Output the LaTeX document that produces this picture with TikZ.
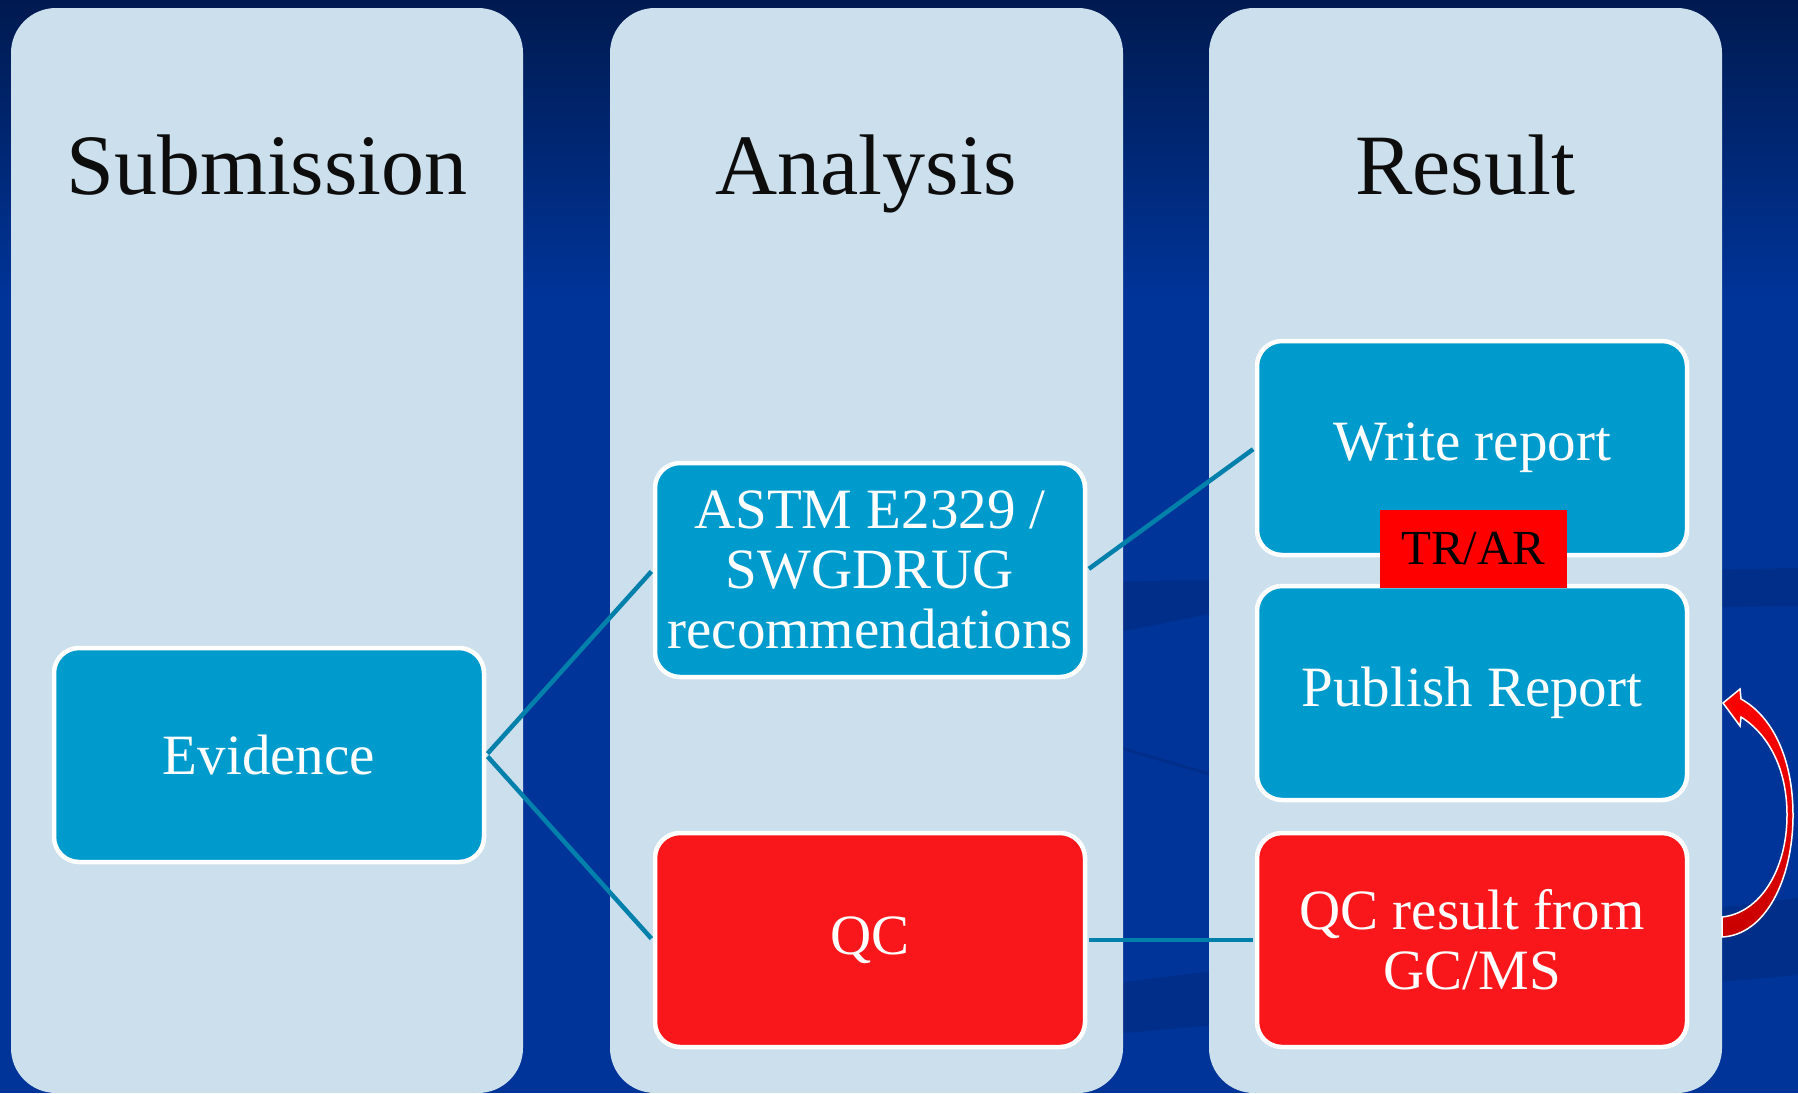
\documentclass[tikz,border=0pt]{standalone}
\usepackage{fontspec}
\setmainfont{Liberation Serif}

\definecolor{bgtop}{RGB}{0,26,80}
\definecolor{bgmain}{RGB}{0,52,153}
\definecolor{lanefill}{RGB}{203,223,236}
\definecolor{boxblue}{RGB}{0,155,205}
\definecolor{boxred}{RGB}{249,23,27}
\definecolor{linkteal}{RGB}{0,128,170}
\definecolor{arrowdark}{RGB}{200,0,0}

\begin{document}
\begin{tikzpicture}[x=1pt,y=-1pt,
  lane/.style={fill=lanefill, rounded corners=45pt},
  lanetitle/.style={anchor=base, text={rgb,255:red,13;green,13;blue,13}, font=\fontsize{86}{90}\selectfont},
  stage/.style={rectangle, rounded corners=25pt, draw=white, line width=4.5pt,
    minimum width=430pt, minimum height=214pt, inner sep=0pt, align=center,
    text=white, font=\fontsize{57}{60}\selectfont},
  bluebox/.style={stage, fill=boxblue},
  redbox/.style={stage, fill=boxred},
  link/.style={draw=linkteal, line width=4.5pt, shorten <=2pt, shorten >=2pt},
  tag/.style={rectangle, fill=red, minimum width=187pt, minimum height=78pt,
    inner sep=0pt, text=black, font=\fontsize{49}{50}\selectfont},
  streak/.style={fill=black, opacity=0.10},
]
\useasboundingbox (0,0) rectangle (1798,1093);

% backdrop: navy gradient at the top, flat blue below
\fill[bgmain] (0,0) rectangle (1798,1093);
\shade[top color=bgtop, bottom color=bgmain] (0,0) rectangle (1798,300);
\fill[streak] (1100,582) -- (1798,568) -- (1798,606) -- (1209,614) -- (1100,636) -- cycle;
\fill[streak] (1100,985) -- (1798,898) -- (1798,975) -- (1100,1035) -- cycle;
\draw[black, opacity=0.10, line width=3pt] (1100,742) -- (1230,780);

% three swim lanes
\fill[lane] (11,8) rectangle (523,1093);
\fill[lane] (610,8) rectangle (1123,1093);
\fill[lane] (1209,8) rectangle (1722,1093);

\node[lanetitle] (tsub) at (267,194) {Submission};
\node[lanetitle] (tana) at (866,194) {Analysis};
\node[lanetitle] (tres) at (1465,194) {Result};

% process boxes
\node[bluebox] (evidence) at (269,755) {Evidence};
\node[bluebox] (astm) at (870,570) {ASTM E2329 /\\SWGDRUG\\recommendations};
\node[redbox] (qc) at (870,940) {QC};
\node[bluebox] (write) at (1472,448) {Write report};
\node[bluebox] (publish) at (1472,693) {Publish Report};
\node[redbox] (qcres) at (1472,940) {QC result from\\GC/MS};

\node[tag] (trar) at (1473.5,549) {TR/AR};

% connectors
\draw[link] (evidence.east) -- (astm.west);
\draw[link] (evidence.east) -- (qc.west);
\draw[link] (astm.east) -- (write.west);
\draw[link] (qc.east) -- (qcres.west);

% curved return arrow on the right margin
\coordinate (tip) at (1723,703);
\coordinate (tailtop) at (1722,917);
\coordinate (tailbot) at (1722,937);
\shadedraw[top color=red, bottom color=arrowdark, draw=white, line width=1.5pt]
  (tip) -- (1740,689) -- (1741,699)
  .. controls (1772,716) and (1793,758) .. (1793,815)
  .. controls (1793,880) and (1765,935) .. (tailbot)
  -- (tailtop)
  .. controls (1760,913) and (1787,870) .. (1787,815)
  .. controls (1787,768) and (1768,734) .. (1741,717)
  -- (1740,726) -- cycle;
\end{tikzpicture}
\end{document}
